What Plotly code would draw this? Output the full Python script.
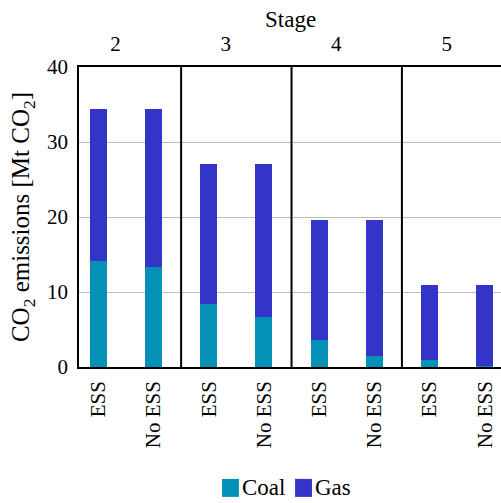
import plotly.graph_objects as go

# Scenario data: CO2 emissions per stage, with and without energy storage (ESS)
stages = ["2", "3", "4", "5"]
scenarios = ["ESS", "No ESS"]
coal = [14.1, 13.4, 8.4, 6.7, 3.6, 1.5, 1.0, 0.1]
gas = [20.3, 21.0, 18.7, 20.4, 16.0, 18.1, 9.9, 10.8]
y_ticks = [0, 10, 20, 30, 40]

coal_color = "#0591b5"
gas_color = "#3434c9"
font_family = "'Liberation Serif', 'DejaVu Serif', serif"
font_size = 21

n = len(stages) * len(scenarios)
x_pos = list(range(n))
x_labels = [scenarios[i % len(scenarios)] for i in range(n)]
x_range = [-0.35, 7.295]

fig = go.Figure()
fig.add_trace(go.Bar(x=x_pos, y=coal, name="Coal", marker_color=coal_color,
                     marker_line_width=0, width=0.31))
fig.add_trace(go.Bar(x=x_pos, y=gas, name="Gas", marker_color=gas_color,
                     marker_line_width=0, width=0.31))

# Separators between stages
for k in range(1, len(stages)):
    xb = k * len(scenarios) - 0.5
    fig.add_shape(type="line", xref="x", yref="paper", x0=xb, x1=xb, y0=0, y1=1,
                  line=dict(color="black", width=2))

# Stage labels along the top axis
stage_pos = [k * len(scenarios) + 0.5 - 0.19 for k in range(len(stages))]
fig.add_trace(go.Scatter(x=stage_pos, y=[None] * len(stage_pos), xaxis="x2",
                         showlegend=False, hoverinfo="skip", mode="markers"))

# Top axis title
fig.add_annotation(xref="paper", yref="paper", x=0.5, y=1.157, text="Stage",
                   showarrow=False, xanchor="center", yanchor="middle",
                   font=dict(size=23))

# Legend drawn below the plot: square swatch followed by the series name
legend_items = [("Coal", coal_color, 0.339), ("Gas", gas_color, 0.512)]
sw_w, sw_h, legend_y = 0.040, 0.060, -0.403
for name, color, x0 in legend_items:
    fig.add_shape(type="rect", xref="paper", yref="paper",
                  x0=x0, x1=x0 + sw_w, y0=legend_y - sw_h / 2, y1=legend_y + sw_h / 2,
                  fillcolor=color, line=dict(width=0))
    fig.add_annotation(xref="paper", yref="paper", x=x0 + sw_w + 0.003, y=legend_y,
                       text=name, showarrow=False, xanchor="left", yanchor="middle",
                       font=dict(size=23))

fig.update_layout(
    width=501, height=503,
    margin=dict(l=79, r=0, t=67, b=136),
    barmode="stack",
    plot_bgcolor="white", paper_bgcolor="white",
    font=dict(family=font_family, size=font_size, color="black"),
    showlegend=False,
    xaxis=dict(range=x_range, tickvals=x_pos, ticktext=x_labels, tickangle=-90,
               showline=True, linecolor="black", linewidth=1.5, mirror=False,
               showgrid=False, zeroline=False, ticks="outside", ticklen=4,
               tickcolor="rgba(0,0,0,0)", automargin=False),
    xaxis2=dict(range=x_range, overlaying="x", side="top", tickvals=stage_pos,
                ticktext=stages, showline=True, linecolor="black", linewidth=1.5,
                showgrid=False, zeroline=False, ticks="outside", ticklen=6,
                tickcolor="rgba(0,0,0,0)", automargin=False),
    yaxis=dict(range=[0, 40], tickvals=y_ticks, showline=True, linecolor="black",
               linewidth=1.5, showgrid=True, gridcolor="#bdbdbd", gridwidth=1,
               zeroline=False, ticks="outside", ticklen=5,
               tickcolor="rgba(0,0,0,0)", automargin=False,
               title=dict(text="CO<sub>2</sub> emissions [Mt CO<sub>2</sub>]",
                          standoff=10)),
)

fig.write_html("out.html")
